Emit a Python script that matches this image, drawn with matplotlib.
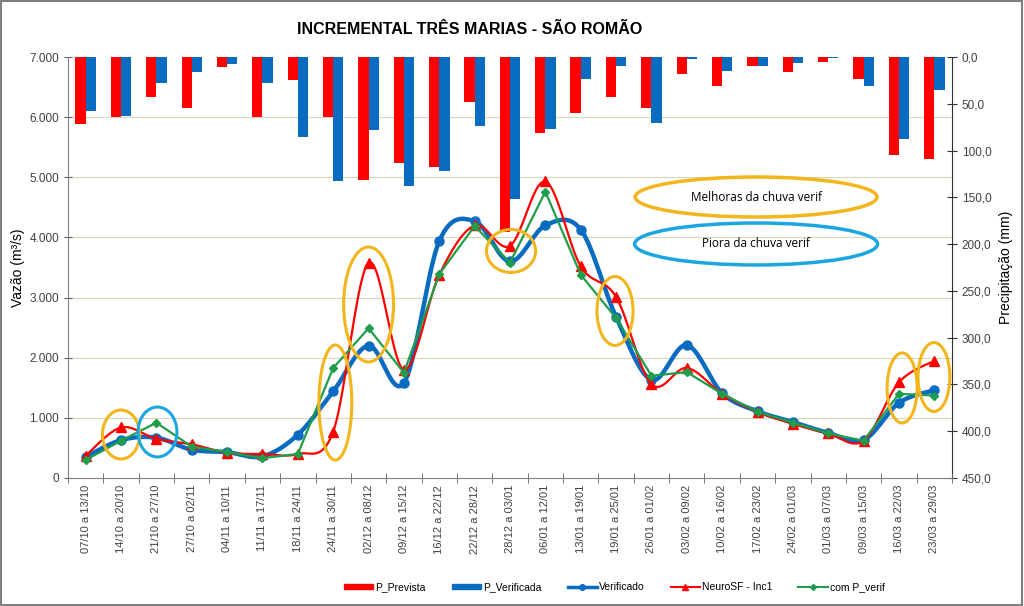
import numpy as np
import matplotlib.pyplot as plt
from matplotlib.patches import Ellipse, Rectangle, Patch
from matplotlib.lines import Line2D
from matplotlib.ticker import FuncFormatter

plt.rcParams['font.family'] = ['Liberation Sans', 'DejaVu Sans']

# Dados
semanas = ['07/10 a 13/10', '14/10 a 20/10', '21/10 a 27/10', '27/10 a 02/11',
           '04/11 a 10/11', '11/11 a 17/11', '18/11 a 24/11', '24/11 a 30/11',
           '02/12 a 08/12', '09/12 a 15/12', '16/12 a 22/12', '22/12 a 28/12',
           '28/12 a 03/01', '06/01 a 12/01', '13/01 a 19/01', '19/01 a 25/01',
           '26/01 a 01/02', '03/02 a 09/02', '10/02 a 16/02', '17/02 a 23/02',
           '24/02 a 01/03', '01/03 a 07/03', '09/03 a 15/03', '16/03 a 22/03',
           '23/03 a 29/03']
p_prevista = [71.6, 63.8, 42.4, 54.0, 10.3, 63.8, 24.6, 63.8, 131.8, 113.0,
              117.6, 48.4, 187.0, 80.9, 59.5, 42.4, 54.2, 18.2, 30.6, 9.6,
              16.4, 5.0, 23.8, 104.7, 109.0]
p_verificada = [57.7, 63.0, 27.4, 15.7, 7.5, 27.4, 86.0, 132.5, 78.0, 137.5,
                121.5, 73.4, 152.0, 77.3, 23.8, 9.6, 70.9, 2.5, 14.6, 9.3,
                6.8, 1.4, 30.6, 88.0, 35.3]
verificado = [350, 630, 670, 470, 430, 360, 720, 1440, 2200, 1580,
              3940, 4270, 3600, 4200, 4130, 2680, 1630, 2210, 1410, 1110,
              930, 750, 630, 1250, 1460]
neurosf = [370, 840, 650, 560, 420, 400, 400, 770, 3580, 1800,
           3380, 4200, 3860, 4930, 3520, 3010, 1560, 1830, 1400, 1100,
           900, 740, 620, 1590, 1950]
com_p_verif = [300, 620, 920, 520, 430, 330, 400, 1830, 2490, 1750,
               3390, 4190, 3580, 4760, 3380, 2660, 1700, 1760, 1400, 1100,
               920, 740, 620, 1400, 1370]

# destaques: (x, y, largura, altura, cor)
laranja = '#F2B51C'
azul_claro = '#1CA6DF'
destaques = [(1.0, 723, 1.05, 815, laranja),
             (2.03, 765, 1.1, 830, azul_claro),
             (7.06, 1255, 0.93, 1912, laranja),
             (8.0, 2885, 1.41, 1912, laranja),
             (12.03, 3775, 1.39, 715, laranja),
             (14.97, 2777, 1.02, 1147, laranja),
             (23.09, 1497, 0.85, 1164, laranja),
             (23.99, 1679, 0.9, 1147, laranja)]
notas = [(18.96, 4672, 6.84, 665, laranja, 'Melhoras da chuva verif'),
         (18.96, 3891, 6.87, 698, azul_claro, 'Piora da chuva verif')]


def suavizar(y, n=20):
    # curva suavizada tipo Excel (Bezier com tensão 1/6)
    pts = np.column_stack([np.arange(len(y), dtype=float), np.asarray(y, float)])
    ext = np.vstack([pts[0], pts, pts[-1]])
    t = np.linspace(0, 1, n)[:, None]
    out = []
    for i in range(len(pts) - 1):
        p0, p1, p2, p3 = ext[i], ext[i + 1], ext[i + 2], ext[i + 3]
        c1 = p1 + (p2 - p0) / 6
        c2 = p2 - (p3 - p1) / 6
        seg = (1 - t) ** 3 * p1 + 3 * (1 - t) ** 2 * t * c1 + 3 * (1 - t) * t ** 2 * c2 + t ** 3 * p2
        out.append(seg if i == 0 else seg[1:])
    out = np.vstack(out)
    return out[:, 0], out[:, 1]


cor_vermelho = '#FF0000'
cor_azul = '#0A6CC0'
cor_verde = '#1E9E4A'

fig = plt.figure(figsize=(10.24, 6.06), dpi=100)
ax = fig.add_axes([68 / 1024, 1 - 478 / 606, 884 / 1024, 421 / 606])
ax2 = ax.twinx()
ax.set_zorder(ax2.get_zorder() + 1)
ax.patch.set_visible(False)
ax2.set_facecolor('#FFFFCC')

x = np.arange(len(semanas))

# barras de precipitação (eixo direito invertido)
w = 0.29
ax2.bar(x - w / 2, p_prevista, w, color=cor_vermelho, zorder=3)
ax2.bar(x + w / 2, p_verificada, w, color=cor_azul, zorder=3)
ax2.set_ylim(450, 0)
ax2.set_yticks(np.arange(0, 451, 50))
ax2.yaxis.set_major_formatter(FuncFormatter(lambda v, p: f'{v:.1f}'.replace('.', ',')))
grade = [(7000 - v) / 7000 * 450 for v in range(1000, 7000, 1000)]
ax2.set_yticks(grade, minor=True)
ax2.yaxis.grid(True, which='minor', color='#D8D8B8', linewidth=0.8)
ax2.tick_params(axis='y', which='minor', length=0)
ax2.tick_params(axis='y', which='major', direction='inout', length=7, labelsize=8.5,
                labelcolor='#404040', color='#303030')
ax2.set_ylabel('Precipitação (mm)', fontsize=10)
ax2.yaxis.set_label_coords(1.053, 0.5)

# vazões
xs, ys = suavizar(verificado)
ax.plot(xs, ys, color=cor_azul, lw=3.2, zorder=3)
ax.plot(x, verificado, 'o', color=cor_azul, ms=6.5, zorder=3)
xs, ys = suavizar(neurosf)
ax.plot(xs, ys, color=cor_vermelho, lw=1.6, zorder=4)
ax.plot(x, neurosf, '^', color=cor_vermelho, ms=6.5, zorder=4)
ax.plot(x, com_p_verif, '-D', color=cor_verde, lw=1.6, ms=4.5, zorder=5)

for cx, cy, ew, eh, c in destaques:
    ax.add_patch(Ellipse((cx, cy), ew, eh, fill=False, edgecolor=c, lw=2.2, zorder=6))
for cx, cy, ew, eh, c, txt in notas:
    ax.add_patch(Ellipse((cx, cy), ew, eh, fill=False, edgecolor=c, lw=2.5, zorder=6))
    ax.text(cx, cy, txt, ha='center', va='center', fontsize=8.5, family=['Open Sans', 'DejaVu Sans'], zorder=7)

ax.set_xlim(-0.5, len(semanas) - 0.5)
ax.set_ylim(0, 7000)
ax.set_yticks(np.arange(0, 7001, 1000))
ax.yaxis.set_major_formatter(FuncFormatter(lambda v, p: f'{int(v):,}'.replace(',', '.')))
ax.tick_params(axis='y', direction='inout', length=6, labelsize=8.5, labelcolor='#404040', color='#606060')
ax.set_ylabel('Vazão (m³/s)', fontsize=10)
ax.yaxis.set_label_coords(-0.049, 0.5)

ax.set_xticks(x)
ax.set_xticklabels(semanas, rotation=90, fontsize=8, color='#404040')
ax.tick_params(axis='x', which='major', length=0, pad=5)
ax.set_xticks(np.arange(-0.5, len(semanas), 1), minor=True)
ax.tick_params(axis='x', which='minor', direction='inout', length=7, color='#606060')

for a in (ax, ax2):
    a.spines['top'].set_visible(False)
ax.spines['left'].set_color('#808080')
ax.spines['bottom'].set_color('#808080')
ax2.spines['left'].set_visible(False)
ax2.spines['bottom'].set_visible(False)
ax.spines['right'].set_visible(False)
ax2.spines['right'].set_color('#303030')

fig.text(470 / 1024, 1 - 30 / 606, 'INCREMENTAL TRÊS MARIAS - SÃO ROMÃO',
         ha='center', va='center', fontsize=11.5, fontweight='bold')

alcas = [Patch(color=cor_vermelho), Patch(color=cor_azul),
         Line2D([], [], color=cor_azul, lw=2.5, marker='o', ms=4),
         Line2D([], [], color=cor_vermelho, lw=1.5, marker='^', ms=4),
         Line2D([], [], color=cor_verde, lw=1.5, marker='D', ms=3)]
rotulos = ['P_Prevista', 'P_Verificada', 'Verificado', 'NeuroSF - Inc1', 'com P_verif']
fig.legend(alcas, rotulos, loc='center', bbox_to_anchor=(0.6, 1 - 587 / 606), ncol=5,
           frameon=False, fontsize=7.5, handlelength=2.8, handleheight=0.4,
           columnspacing=2.5, handletextpad=0.2)

fig.add_artist(Rectangle((0.001, 0.002), 0.997, 0.996, transform=fig.transFigure,
                         fill=False, edgecolor='#808080', lw=1.5))

fig.savefig('out.png', dpi=100)
